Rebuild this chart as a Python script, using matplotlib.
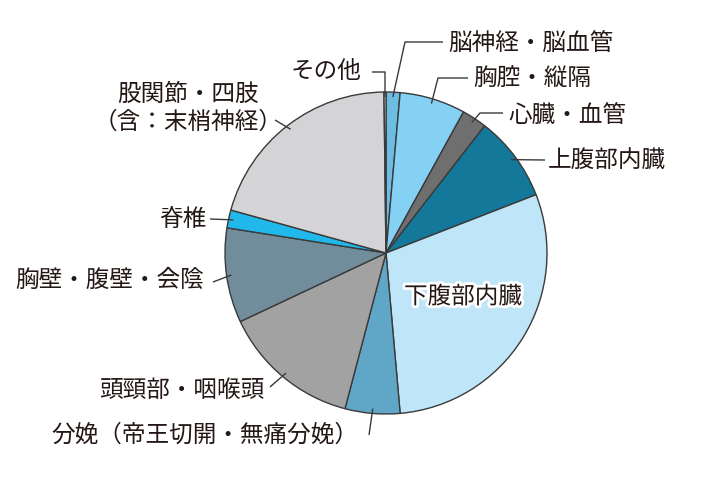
import numpy as np
import matplotlib
matplotlib.use("Agg")
import matplotlib.pyplot as plt
import matplotlib.patheffects as pe

plt.rcParams['font.family'] = ['Noto Sans CJK JP', 'DejaVu Sans']

# ---- data (clockwise from 12 o'clock) ----
categories = ["脳神経・脳血管", "胸腔・縦隔", "心臓・血管", "上腹部内臓", "下腹部内臓",
              "分娩（帝王切開・無痛分娩）", "頭頸部・咽喉頭", "胸壁・腹壁・会陰", "脊椎",
              "股関節・四肢\n（含：末梢神経）", "その他"]
values = [1.4, 6.6, 2.5, 8.6, 29.5, 5.5, 13.9, 9.5, 1.8, 20.5, 0.2]
colors = ["#6cbde1", "#84d1f3", "#6f6f6f", "#137899", "#bee5f8",
          "#60a6c7", "#a2a2a2", "#718d9c", "#21b8ec", "#d4d4d6", "#ffffff"]

W, H = 720, 480
fig = plt.figure(figsize=(7.2, 4.8), dpi=100)
ax = fig.add_axes([0, 0, 1, 1])

def P(x, y):
    return (x, H - y)

cx, cy = P(386, 253)
R = 161
wedges, _ = ax.pie(values, colors=colors, startangle=90, counterclock=False,
                   center=(cx, cy), radius=R, frame=True,
                   wedgeprops=dict(edgecolor="#3a3a3a", linewidth=1.0))
ax.set_xlim(0, W)
ax.set_ylim(0, H)
ax.set_axis_off()

txt_color = "#231815"
fs = 17

# label layout: (text x, text y), ha, multialignment, elbow point or None, leader end point
layout = [
    ((448, 43), 'left', 'left', (405, 42), (443, 42)),
    ((473, 79), 'left', 'left', (438, 78), (468, 78)),
    ((508, 115), 'left', 'left', (480, 113), (503, 113)),
    ((548, 160), 'left', 'left', None, (545, 160)),
    None,
    ((358, 435), 'right', 'left', None, (369, 435)),
    ((264, 390), 'right', 'left', None, (270, 387)),
    ((204, 280), 'right', 'left', None, (213, 282)),
    ((206, 220), 'right', 'left', None, (210, 219)),
    ((188, 108), 'center', 'center', None, (275, 120)),
    ((361, 72), 'right', 'left', (385, 72), (372, 72)),
]

for w, lab, lay in zip(wedges, categories, layout):
    mid = np.deg2rad((w.theta1 + w.theta2) / 2)
    px = cx + 0.97 * R * np.cos(mid)
    py = cy + 0.97 * R * np.sin(mid)
    if lay is None:
        t = ax.text(*P(463, 297), lab, ha='center', va='center', fontsize=fs,
                    color=txt_color)
        t.set_path_effects([pe.withStroke(linewidth=4, foreground='white')])
        continue
    (tx, ty), ha, ma, elbow, end = lay
    xs, ys = [px], [py]
    if elbow is not None:
        ex, ey = P(*elbow)
        xs.append(ex); ys.append(ey)
    ex, ey = P(*end)
    xs.append(ex); ys.append(ey)
    ax.plot(xs, ys, color="#3a3a3a", lw=1.0, solid_capstyle='butt')
    ax.text(*P(tx, ty), lab, ha=ha, va='center', fontsize=fs, color=txt_color,
            linespacing=1.25, multialignment=ma)

fig.savefig("out.png", dpi=100)
